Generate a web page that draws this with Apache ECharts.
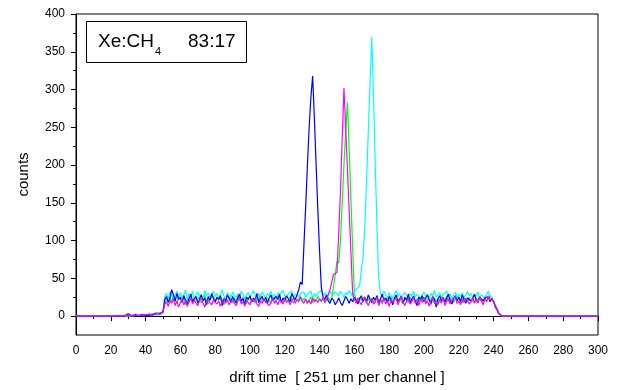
<!DOCTYPE html>
<html>
<head>
<meta charset="utf-8">
<script src="https://cdn.jsdelivr.net/npm/echarts@6/dist/echarts.min.js"></script>
<style>html,body{margin:0;padding:0;background:#fff}#c{width:620px;height:390px}</style>
</head>
<body>
<div id="c"></div>
<script>
// channel index = array position (0..300)
var blueCounts = [
 0,0,0,0,0,0,0,0,0,0, 0,0,0,0,0,0,0,0,0,0, 0,0,0,0,0,0,0,1,0,1,
 3,1,0,1,2,1,0,1,2,1, 1,2,1,3,2,1,4,2,3,2,
 6,22,26,18,24,35,28,20,30,22, 25,18,27,21,16,24,29,19,23,26,
 17,22,28,20,24,15,26,21,30,23, 19,25,22,27,14,23,20,28,24,18,
 26,21,17,24,29,20,23,16,25,22, 27,19,24,21,30,18,23,26,20,25,
 17,24,28,21,19,26,22,29,18,24, 21,27,23,19,30,25,22,28,35,45,
 42,95,145,200,250,290,318,262,200,140, 85,38,25,22,28,20,17,24,21,15,
 19,24,18,14,20,26,22,17,23,19, 25,21,16,23,27,19,24,20,28,22,
 18,25,21,27,16,23,29,20,24,18, 26,22,15,24,28,19,23,26,17,25,
 21,29,18,23,26,20,14,25,22,27, 19,24,28,21,17,26,22,12,23,27,
 20,25,18,24,29,21,16,23,27,20, 25,19,28,22,17,24,26,20,23,29,
 21,18,25,27,20,24,22,26,19,23, 20,12,8,3,1,0,0,0,0,0,
 0,0,0,0,0,0,0,0,0,0, 0,0,0,0,0,0,0,0,0,0, 0,0,0,0,0,0,0,0,0,0,
 0,0,0,0,0,0,0,0,0,0, 0,0,0,0,0,0,0,0,0,0, 0
];
var magentaCounts = [
 0,0,0,0,0,0,0,0,0,0, 0,0,0,0,0,0,0,0,0,0, 0,0,0,0,1,0,0,0,1,0,
 1,0,1,2,1,0,1,2,1,2, 2,1,2,3,1,2,3,2,4,3,
 5,16,19,13,21,17,23,14,20,12, 18,22,15,20,13,19,24,16,21,17,
 14,20,25,17,12,19,22,18,15,21, 23,16,20,13,19,24,17,21,15,19,
 22,17,14,20,25,16,19,13,21,18, 15,22,19,24,16,13,20,17,23,19,
 21,14,18,25,17,20,15,22,19,16, 23,18,21,15,20,24,17,22,19,25,
 20,17,23,18,21,16,24,19,22,18, 23,20,25,19,22,28,35,45,55,57,
 58,110,165,235,302,250,195,140,85,30, 22,17,24,19,15,21,25,18,14,20,
 23,16,19,25,14,21,18,24,16,20, 13,22,19,17,24,15,21,26,18,14,
 20,23,16,19,25,17,21,14,22,18, 24,16,20,13,21,26,17,19,15,22,
 18,25,14,20,23,16,21,19,26,17, 20,15,23,18,24,21,16,19,25,17,
 22,18,26,20,15,23,19,27,21,24, 18,14,9,4,1,0,0,0,0,0,
 0,0,0,0,0,0,0,0,0,0, 0,0,0,0,0,0,0,0,0,0, 0,0,0,0,0,0,0,0,0,0,
 0,0,0,0,0,0,0,0,0,0, 0,0,0,0,0,0,0,0,0,0, 0
];
var greenCounts = [
 0,0,0,0,0,0,0,0,0,0, 0,0,0,0,0,0,0,0,0,0, 0,0,0,1,0,0,0,0,0,1,
 0,1,0,1,1,2,1,0,2,1, 1,2,3,1,2,3,2,3,2,3,
 4,18,23,20,26,19,24,21,17,25, 22,19,26,15,23,20,27,18,24,21,
 19,25,17,22,28,20,16,23,21,26, 18,24,21,27,19,15,23,20,26,22,
 17,24,20,28,21,18,25,22,16,23, 26,19,22,17,25,21,28,20,23,18,
 24,21,16,25,22,19,27,23,20,17, 25,22,19,26,21,17,24,20,23,27,
 19,24,21,16,22,25,18,23,20,26, 22,19,24,17,21,25,20,23,25,55,
 73,70,100,150,200,245,283,220,155,90, 30,22,18,25,21,19,26,17,23,20,
 24,18,22,27,19,23,16,25,21,24, 20,26,17,22,25,19,23,21,16,24,
 22,18,25,20,27,19,23,16,24,21, 25,18,22,26,15,21,24,19,23,20,
 17,24,21,26,19,22,25,18,23,21, 26,20,17,24,22,19,25,21,23,18,
 24,21,26,19,22,25,20,23,27,22, 19,13,9,3,1,0,0,0,0,0,
 0,0,0,0,0,0,0,0,0,0, 0,0,0,0,0,0,0,0,0,0, 0,0,0,0,0,0,0,0,0,0,
 0,0,0,0,0,0,0,0,0,0, 0,0,0,0,0,0,0,0,0,0, 0
];
var cyanCounts = [
 0,0,0,0,0,0,0,0,0,0, 0,0,0,0,0,0,0,0,0,0, 0,0,1,0,0,0,1,0,0,0,
 1,0,1,2,1,1,2,1,2,3, 2,3,2,1,3,4,2,3,4,3,
 5,26,30,24,32,27,22,29,33,25, 31,24,28,35,23,30,26,33,21,29,
 32,25,29,22,34,27,31,24,28,33, 26,30,23,29,35,27,22,31,28,25,
 32,27,24,30,26,33,29,23,28,31, 25,29,34,27,22,30,26,32,28,24,
 30,27,33,25,29,22,31,28,26,34, 27,24,30,28,33,25,29,31,26,30,
 28,32,25,29,27,33,24,30,26,31, 29,34,27,31,25,30,33,28,26,32,
 30,27,33,29,25,31,28,34,30,26, 32,35,37,40,62,78,120,180,245,310,
 370,290,200,115,50,30,26,33,28,24, 31,27,23,29,34,26,30,24,28,32,
 27,23,30,26,33,25,29,31,24,28, 32,26,29,23,30,27,34,25,28,31,
 24,29,27,33,26,30,22,28,32,25, 29,26,31,24,28,33,27,30,25,29,
 26,32,24,28,30,25,29,33,27,24, 22,15,10,4,1,0,0,0,0,0,
 0,0,0,0,0,0,0,0,0,0, 0,0,0,0,0,0,0,0,0,0, 0,0,0,0,0,0,0,0,0,0,
 0,0,0,0,0,0,0,0,0,0, 0,0,0,0,0,0,0,0,0,0, 0
];
var yMajorTicks = [0,50,100,150,200,250,300,350,400];
var yMinorTicks = [25,75,125,175,225,275,325,375];
var xTitle = 'drift time  [ 251 \u00b5m per channel ]';
var yTitle = 'counts';

function pairs(arr){ return arr.map(function(v,i){ return [i,v]; }); }
var FONT = '"Liberation Sans", Arial, sans-serif';
var chart = echarts.init(document.getElementById('c'), null, {renderer:'canvas'});
function mk(name, color, arr){
  return {name:name, type:'line', xAxisIndex:0, yAxisIndex:0, data:pairs(arr), showSymbol:false, symbol:'none',
    lineStyle:{color:color, width:1.2}, itemStyle:{color:color}, animation:false, silent:true};
}
chart.setOption({
  animation:false,
  backgroundColor:'#fff',
  grid:{left:76, right:22, top:14, bottom:55, show:true, borderColor:'#000', borderWidth:1, backgroundColor:'transparent'},
  xAxis:[{type:'value', min:0, max:300, interval:20,
    name:xTitle, nameLocation:'middle', nameGap:35,
    nameTextStyle:{fontFamily:FONT, fontSize:15, color:'#000'},
    axisLine:{show:true, lineStyle:{color:'#000', width:1}},
    axisTick:{show:true, inside:false, length:5, lineStyle:{color:'#000'}},
    minorTick:{show:true, splitNumber:2, length:3, lineStyle:{color:'#000'}},
    axisLabel:{fontFamily:FONT, fontSize:12, color:'#000', margin:10},
    splitLine:{show:false}, minorSplitLine:{show:false}}],
  yAxis:[{type:'value', min:-25, max:400,
    name:yTitle, nameLocation:'middle', nameGap:45, nameRotate:90,
    nameTextStyle:{fontFamily:FONT, fontSize:15, color:'#000'},
    axisLine:{show:true, onZero:false, lineStyle:{color:'#000', width:1}},
    axisTick:{show:true, length:5, customValues:yMajorTicks, lineStyle:{color:'#000'}},
    axisLabel:{fontFamily:FONT, fontSize:12, color:'#000', margin:11, customValues:yMajorTicks},
    splitLine:{show:false}},
   {type:'value', min:-25, max:400, position:'left',
    axisLine:{show:false},
    axisTick:{show:true, length:3, customValues:yMinorTicks, lineStyle:{color:'#000'}},
    axisLabel:{show:false, customValues:yMinorTicks},
    splitLine:{show:false}}],
  series:[
    mk('green','#00ff00',greenCounts),
    mk('cyan','#00ffff',cyanCounts),
    mk('blue','#0000ff',blueCounts),
    mk('magenta','#ff00ff',magentaCounts)
  ],
  graphic:[
    {type:'rect', shape:{x:86.5, y:21.5, width:160, height:41}, style:{fill:'#fff', stroke:'#000', lineWidth:1}, z:100},
    {type:'text', x:98, y:42, style:{text:'Xe:CH', font:'19px '+FONT, fill:'#000', verticalAlign:'middle'}, z:101},
    {type:'text', x:155, y:52, style:{text:'4', font:'11px '+FONT, fill:'#000', verticalAlign:'middle'}, z:101},
    {type:'text', x:188, y:42, style:{text:'83:17', font:'19px '+FONT, fill:'#000', verticalAlign:'middle'}, z:101}
  ]
});
</script>
</body>
</html>
